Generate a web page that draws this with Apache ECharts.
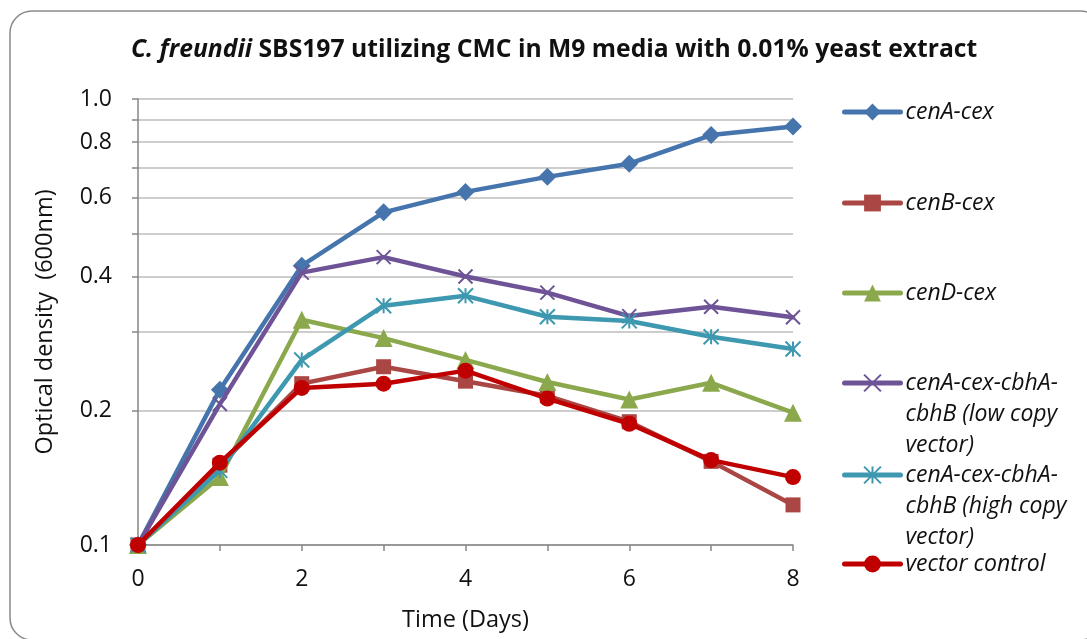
<!DOCTYPE html>
<html>
<head>
<meta charset="utf-8">
<script src="https://cdn.jsdelivr.net/npm/echarts@6/dist/echarts.min.js"></script>
<style>
  html, body { margin: 0; padding: 0; background: #fff; }
  #chart { width: 1087px; height: 639px; }
</style>
</head>
<body>
<div id="chart"></div>
<script>
// Growth time course (OD600) of strains on CMC
const days = [0, 1, 2, 3, 4, 5, 6, 7, 8];
const cenAcex = [0.1, 0.223, 0.423, 0.557, 0.619, 0.669, 0.716, 0.830, 0.868];
const cenBcex = [0.1, 0.151, 0.230, 0.251, 0.233, 0.216, 0.189, 0.154, 0.123];
const cenDcex = [0.1, 0.142, 0.320, 0.291, 0.260, 0.232, 0.212, 0.231, 0.198];
const lowCopy = [0.1, 0.207, 0.408, 0.442, 0.400, 0.368, 0.326, 0.342, 0.324];
const highCopy = [0.1, 0.147, 0.260, 0.344, 0.362, 0.325, 0.318, 0.293, 0.275];
const vectorControl = [0.1, 0.153, 0.225, 0.230, 0.246, 0.213, 0.187, 0.155, 0.142];

const seriesNames = [
  'cenA-cex',
  'cenB-cex',
  'cenD-cex',
  'cenA-cex-cbhA-\ncbhB (low copy\nvector)',
  'cenA-cex-cbhA-\ncbhB (high copy\nvector)',
  'vector control'
];
const xLabelValues = [0, 2, 4, 6, 8];
const yLabelValues = [0.1, 0.2, 0.4, 0.6, 0.8, 1.0];
const yGridValues = [0.1, 0.2, 0.3, 0.4, 0.5, 0.6, 0.7, 0.8, 0.9, 1.0];

const FONT = 'Open Sans';
const colors = ['#4674AC', '#AA4643', '#8BA94C', '#6E5496', '#3D98B0', '#C00000'];
const symbols = [
  'diamond',
  'rect',
  'triangle',
  'path://M0,0L10,10M10,0L0,10',
  'path://M1,0L9,10M9,0L1,10M5,0L5,10',
  'circle'
];
const symbolSizes = [18, 15, 18, 14, 15, 16];
const values = [cenAcex, cenBcex, cenDcex, lowCopy, highCopy, vectorControl];

function pairs(ys) { return days.map((d, i) => [d, ys[i]]); }

const series = seriesNames.map((name, i) => {
  const isStroke = symbols[i].startsWith('path://');
  return {
    name: name,
    type: 'line',
    data: pairs(values[i]),
    symbol: symbols[i],
    symbolSize: symbolSizes[i],
    lineStyle: { color: colors[i], width: 4.5, cap: 'round', join: 'round' },
    itemStyle: {
      color: colors[i],
      borderColor: colors[i],
      borderWidth: isStroke ? 2 : 0
    },
    emphasis: { disabled: true },
    z: 2 + i
  };
});

// One legend block per entry; wrapped names get two leading blank lines so
// the vertically centred icon sits level with their first line.
const legendCenters = [112, 203, 293, 383, 475, 564];
const LINE_H = 31;
const legends = seriesNames.map((name, i) => {
  const multi = name.indexOf('\n') >= 0;
  return {
    orient: 'vertical',
    left: 842,
    top: multi ? legendCenters[i] - LINE_H * 2.5 : legendCenters[i] - LINE_H / 2,
    padding: 0,
    itemGap: 0,
    itemWidth: 56,
    itemHeight: 21,
    selectedMode: false,
    data: [name],
    formatter: multi ? (n => '\n\n' + n) : (n => n),
    lineStyle: { width: 5, cap: 'round' },
    textStyle: {
      fontFamily: FONT,
      fontStyle: 'italic',
      fontSize: 23,
      lineHeight: LINE_H,
      color: '#111'
    }
  };
});

const chart = echarts.init(document.getElementById('chart'), null, { renderer: 'canvas' });
chart.setOption({
  animation: false,
  backgroundColor: '#fff',
  title: {
    text: '{i|C. freundii} SBS197 utilizing CMC in M9 media with 0.01% yeast extract',
    left: 131,
    top: 37,
    padding: 0,
    textStyle: {
      fontFamily: FONT,
      fontSize: 24.7,
      fontWeight: 'bold',
      color: '#111',
      rich: {
        i: { fontFamily: FONT, fontSize: 24.7, fontWeight: 'bold', fontStyle: 'italic', color: '#111' }
      }
    }
  },
  graphic: [{
    type: 'rect',
    shape: { x: 10, y: 11, width: 1092, height: 629, r: 22 },
    style: { fill: 'none', stroke: '#8a8a8a', lineWidth: 1.5 },
    silent: true,
    z: -10
  }],
  legend: legends,
  grid: { left: 138, right: 294, top: 99, bottom: 94, containLabel: false },
  xAxis: {
    type: 'value',
    min: 0,
    max: 8,
    interval: 1,
    name: 'Time (Days)',
    nameLocation: 'middle',
    nameGap: 63,
    nameTextStyle: { fontFamily: FONT, fontSize: 23.5, color: '#111' },
    axisLine: { lineStyle: { color: '#868686', width: 1.5 } },
    axisTick: { show: true, length: 6, lineStyle: { color: '#868686', width: 1.5 } },
    axisLabel: {
      customValues: xLabelValues,
      margin: 23,
      fontFamily: FONT,
      fontSize: 23,
      color: '#111'
    },
    splitLine: { show: false }
  },
  yAxis: {
    type: 'log',
    logBase: 10,
    min: 0.1,
    max: 1.0,
    name: 'Optical density  (600nm)',
    nameLocation: 'middle',
    nameGap: 81,
    nameRotate: 90,
    nameTextStyle: { fontFamily: FONT, fontSize: 23.5, color: '#111' },
    axisLine: { show: true, lineStyle: { color: '#868686', width: 1.5 } },
    axisTick: {
      show: true,
      length: 6,
      customValues: yGridValues,
      lineStyle: { color: '#868686', width: 1.5 }
    },
    axisLabel: {
      customValues: yLabelValues,
      formatter: v => Number(v).toFixed(1),
      margin: 26,
      fontFamily: FONT,
      fontSize: 23,
      color: '#111'
    },
    splitLine: { show: true, lineStyle: { color: '#bdbdbd', width: 1.5 } }
  },
  series: series
});
</script>
</body>
</html>
